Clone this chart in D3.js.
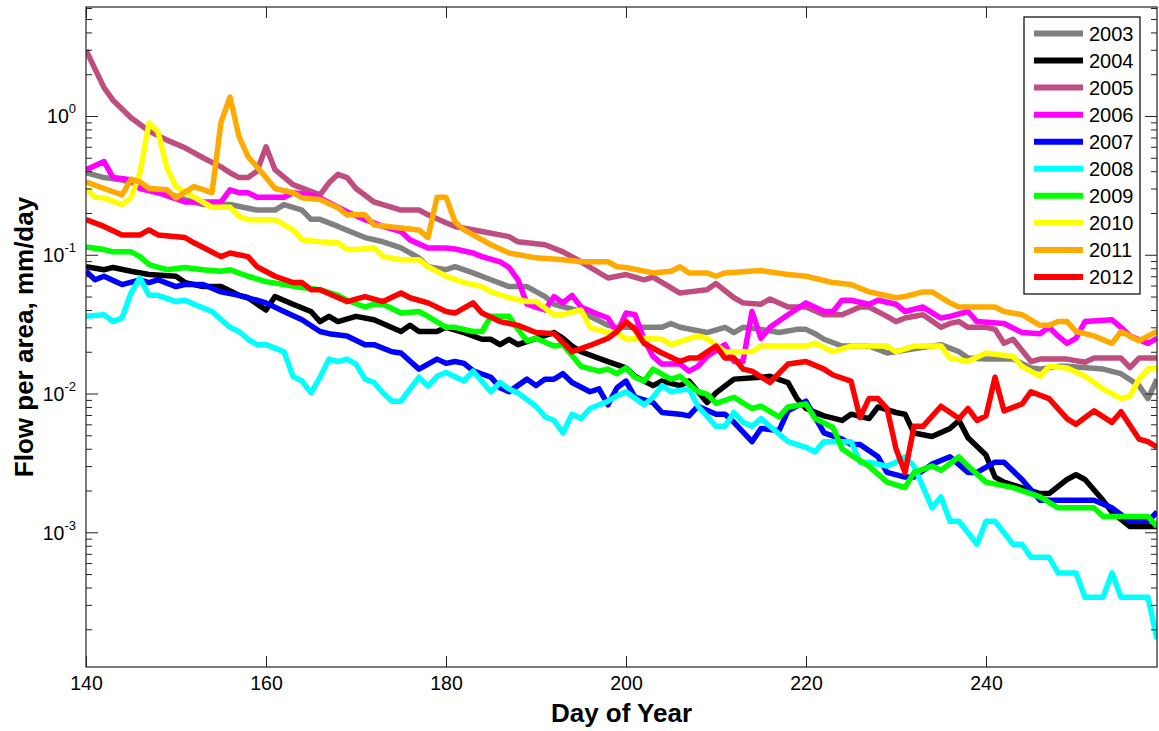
<!DOCTYPE html>
<html>
<head>
<meta charset="utf-8">
<script src="https://cdn.jsdelivr.net/npm/d3@7"></script>
<style>
  body { margin: 0; background: #fff; }
  text { font-family: "Liberation Sans", Arial, sans-serif; fill: #000; }
</style>
</head>
<body>
<div id="chart"></div>
<script>
// day of year, flow per area (mm/day)
var years = ["2003", "2004", "2005", "2006", "2007", "2008", "2009", "2010", "2011", "2012"];
var colors = ["#808080", "#000000", "#bf4d80", "#ff00ff", "#0000ff", "#00ffff", "#00ff00", "#ffff00", "#ffaa00", "#ff0000"];

var xTicks = [140, 160, 180, 200, 220, 240];
var yMajor = [1e-3, 1e-2, 1e-1, 1];
var yExp = ["-3", "-2", "-1", "0"];

var flow2003 = [[140,0.39],[142,0.36],[144,0.345],[146,0.32],[147,0.30],[149,0.28],[151,0.25],[153,0.23],[156,0.23],[159,0.21],[161,0.21],[162,0.23],[164,0.21],[165,0.18],[166,0.18],[168,0.16],[169,0.15],[171,0.133],[173,0.124],[175,0.112],[177,0.095],[178,0.082],[180,0.078],[181,0.082],[183,0.074],[185,0.066],[187,0.059],[189,0.059],[191,0.050],[192,0.044],[195,0.039],[196,0.036],[198,0.031],[199,0.030],[204,0.030],[205,0.032],[206,0.030],[209,0.0275],[211,0.030],[212,0.0275],[213,0.030],[215,0.029],[217,0.0275],[219,0.029],[220,0.029],[221,0.027],[222,0.0246],[224,0.022],[227,0.022],[229,0.0196],[232,0.021],[235,0.0225],[237,0.020],[238,0.018],[240,0.0177],[243,0.0177],[245,0.0153],[246,0.015],[248,0.0157],[249,0.0157],[253,0.015],[255,0.0139],[257,0.0114],[258,0.0092],[259,0.0127]];

var flow2004 = [[140,0.082],[142,0.078],[143,0.081],[145,0.076],[147,0.072],[150,0.070],[151,0.063],[153,0.059],[155,0.059],[157,0.051],[158,0.049],[160,0.040],[161,0.050],[163,0.044],[165,0.039],[166,0.033],[167,0.036],[168,0.033],[170,0.036],[172,0.034],[175,0.028],[176,0.031],[177,0.028],[179,0.028],[180,0.030],[182,0.0275],[184,0.0246],[185,0.0246],[186,0.0225],[187,0.0246],[188,0.0225],[190,0.025],[192,0.0275],[193,0.025],[194,0.022],[195,0.020],[198,0.017],[200,0.0153],[201,0.0133],[203,0.0114],[204,0.0123],[206,0.0114],[207,0.0123],[208,0.0103],[209,0.0086],[210,0.0101],[212,0.0127],[215,0.0131],[216,0.0133],[218,0.012],[219,0.0092],[220,0.0078],[222,0.0069],[224,0.0064],[225,0.0071],[227,0.0066],[228,0.008],[230,0.0073],[231,0.0071],[232,0.0052],[234,0.0049],[236,0.0056],[237,0.0064],[238,0.0048],[240,0.0036],[241,0.0025],[242,0.0023],[246,0.0019],[247,0.0019],[249,0.0024],[250,0.0026],[251,0.0024],[253,0.0017],[254,0.0014],[256,0.0011],[259,0.0011]];

var flow2005 = [[140,2.98],[142,1.6],[143,1.3],[145,0.97],[147,0.78],[149,0.67],[151,0.59],[153,0.50],[155,0.43],[156,0.39],[157,0.36],[158,0.36],[159,0.40],[160,0.60],[161,0.41],[163,0.32],[166,0.27],[167,0.33],[168,0.38],[169,0.36],[170,0.30],[172,0.24],[173,0.23],[175,0.21],[177,0.21],[178,0.194],[180,0.17],[181,0.16],[184,0.147],[187,0.135],[188,0.124],[191,0.118],[193,0.105],[195,0.089],[198,0.068],[200,0.072],[202,0.066],[203,0.069],[206,0.053],[207,0.054],[209,0.056],[210,0.062],[212,0.049],[213,0.045],[215,0.044],[216,0.048],[218,0.042],[220,0.042],[222,0.037],[224,0.037],[226,0.042],[227,0.042],[229,0.036],[230,0.033],[231,0.035],[233,0.037],[235,0.030],[236,0.032],[237,0.033],[238,0.030],[240,0.030],[241,0.029],[242,0.023],[243,0.0246],[245,0.017],[246,0.0177],[249,0.0177],[251,0.0168],[252,0.018],[255,0.018],[256,0.0154],[257,0.018],[259,0.018]];

var flow2006 = [[140,0.41],[142,0.47],[143,0.36],[145,0.347],[146,0.30],[148,0.28],[151,0.24],[155,0.24],[156,0.294],[157,0.28],[158,0.28],[159,0.26],[162,0.26],[163,0.28],[165,0.27],[166,0.257],[168,0.22],[169,0.204],[171,0.179],[173,0.16],[175,0.147],[176,0.128],[178,0.112],[180,0.112],[181,0.110],[183,0.103],[184,0.097],[186,0.089],[187,0.081],[188,0.066],[189,0.044],[190,0.042],[191,0.040],[192,0.050],[193,0.045],[194,0.051],[195,0.042],[197,0.037],[198,0.035],[199,0.0275],[200,0.038],[201,0.037],[202,0.0246],[203,0.0185],[204,0.0163],[206,0.0163],[207,0.0145],[208,0.0157],[209,0.0185],[211,0.0225],[212,0.017],[213,0.017],[214,0.039],[215,0.025],[216,0.030],[218,0.037],[220,0.045],[222,0.039],[223,0.039],[224,0.047],[225,0.047],[227,0.044],[228,0.047],[230,0.044],[231,0.039],[233,0.042],[235,0.035],[236,0.036],[238,0.039],[239,0.033],[242,0.032],[244,0.0275],[246,0.027],[247,0.030],[248,0.026],[249,0.023],[250,0.025],[251,0.033],[254,0.034],[255,0.030],[256,0.026],[258,0.023],[259,0.025]];

var flow2007 = [[140,0.076],[141,0.066],[142,0.070],[144,0.061],[146,0.066],[147,0.063],[148,0.066],[150,0.059],[151,0.061],[153,0.061],[155,0.054],[157,0.051],[159,0.047],[160,0.045],[162,0.039],[164,0.034],[166,0.028],[167,0.027],[169,0.026],[171,0.0225],[172,0.0225],[174,0.020],[175,0.0196],[177,0.015],[179,0.0177],[180,0.0165],[181,0.017],[182,0.0165],[183,0.0146],[185,0.0131],[186,0.011],[187,0.0103],[189,0.0127],[190,0.0114],[191,0.0127],[192,0.0127],[193,0.0139],[194,0.012],[196,0.0103],[197,0.0108],[198,0.0083],[199,0.011],[200,0.0123],[201,0.0094],[203,0.0086],[204,0.0073],[206,0.0071],[207,0.0069],[208,0.0081],[210,0.0071],[211,0.0071],[212,0.0062],[214,0.0045],[215,0.0056],[217,0.0054],[218,0.0075],[220,0.0088],[222,0.0052],[224,0.0047],[225,0.0043],[226,0.0043],[228,0.0035],[229,0.0027],[231,0.0025],[232,0.0025],[234,0.0031],[236,0.0035],[238,0.0027],[239,0.0027],[241,0.0032],[242,0.0032],[244,0.0024],[246,0.0017],[248,0.0017],[252,0.0017],[254,0.0015],[256,0.0012],[258,0.0012],[259,0.0014]];

var flow2008 = [[140,0.036],[142,0.037],[143,0.033],[144,0.035],[145,0.053],[146,0.068],[147,0.051],[148,0.051],[150,0.046],[151,0.047],[152,0.044],[154,0.039],[156,0.030],[157,0.028],[158,0.0246],[159,0.0225],[160,0.0225],[162,0.020],[163,0.0133],[164,0.0123],[165,0.0101],[166,0.0131],[167,0.0177],[168,0.017],[169,0.0177],[170,0.0163],[171,0.0127],[172,0.012],[173,0.0101],[174,0.0088],[175,0.0088],[176,0.0108],[177,0.0131],[178,0.0113],[179,0.0133],[180,0.0142],[182,0.0123],[183,0.0145],[185,0.0103],[186,0.012],[187,0.0108],[188,0.0101],[190,0.0081],[191,0.0068],[192,0.0064],[193,0.0052],[194,0.0071],[195,0.0066],[196,0.0078],[198,0.0088],[199,0.0096],[200,0.0103],[202,0.0083],[203,0.0094],[204,0.0114],[205,0.0103],[207,0.0108],[208,0.0081],[210,0.0058],[211,0.0058],[212,0.0073],[213,0.0062],[214,0.0058],[215,0.0066],[218,0.0045],[220,0.0041],[221,0.0038],[222,0.0045],[225,0.0045],[226,0.0032],[227,0.0032],[229,0.003],[230,0.0032],[231,0.0035],[232,0.003],[234,0.0015],[235,0.0018],[236,0.0012],[237,0.0012],[239,0.00082],[240,0.0012],[241,0.0012],[243,0.00082],[244,0.00082],[245,0.00066],[247,0.00066],[248,0.00051],[250,0.00051],[251,0.00034],[253,0.00034],[254,0.00051],[255,0.00034],[258,0.00034],[259,0.00017]];

var flow2009 = [[140,0.114],[142,0.109],[143,0.105],[145,0.105],[146,0.097],[147,0.085],[149,0.078],[151,0.081],[153,0.078],[155,0.076],[156,0.078],[158,0.070],[160,0.064],[162,0.061],[164,0.058],[166,0.056],[168,0.051],[169,0.047],[171,0.042],[172,0.044],[173,0.044],[175,0.038],[177,0.039],[178,0.036],[180,0.030],[181,0.030],[183,0.028],[184,0.028],[185,0.036],[187,0.036],[188,0.029],[189,0.024],[190,0.025],[192,0.022],[193,0.0225],[195,0.0157],[197,0.0145],[198,0.015],[199,0.0139],[200,0.0153],[201,0.0131],[202,0.0123],[203,0.015],[205,0.0127],[206,0.0133],[208,0.0103],[209,0.0099],[210,0.0085],[212,0.0094],[214,0.0078],[215,0.0081],[217,0.0068],[218,0.008],[220,0.0084],[221,0.0066],[223,0.0057],[224,0.004],[225,0.0036],[227,0.003],[229,0.0023],[231,0.0021],[232,0.0027],[234,0.003],[235,0.0028],[237,0.0035],[238,0.003],[240,0.0023],[243,0.0021],[246,0.0018],[248,0.0015],[252,0.0015],[253,0.0013],[258,0.0013],[259,0.0011]];

var flow2010 = [[140,0.30],[141,0.26],[142,0.257],[144,0.23],[145,0.257],[146,0.39],[147,0.89],[148,0.77],[149,0.42],[150,0.31],[152,0.26],[154,0.22],[156,0.22],[157,0.188],[158,0.179],[161,0.179],[163,0.151],[164,0.128],[166,0.124],[168,0.122],[169,0.109],[170,0.109],[172,0.112],[173,0.097],[175,0.092],[177,0.092],[178,0.082],[180,0.070],[182,0.063],[184,0.059],[185,0.054],[187,0.049],[189,0.046],[190,0.046],[192,0.037],[193,0.037],[195,0.040],[196,0.030],[198,0.0275],[199,0.0275],[200,0.0246],[202,0.025],[204,0.0246],[205,0.0225],[208,0.026],[209,0.025],[211,0.020],[214,0.020],[215,0.022],[220,0.022],[221,0.023],[223,0.020],[225,0.022],[229,0.022],[230,0.020],[232,0.022],[235,0.022],[236,0.018],[238,0.017],[240,0.0196],[243,0.0185],[244,0.0157],[246,0.0133],[247,0.0157],[249,0.0153],[251,0.0133],[253,0.0108],[255,0.0092],[256,0.0096],[257,0.0127],[258,0.015],[259,0.0153]];

var flow2011 = [[140,0.335],[142,0.30],[144,0.27],[145,0.35],[146,0.335],[147,0.30],[149,0.294],[150,0.257],[152,0.31],[154,0.28],[155,0.9],[156,1.37],[157,0.71],[158,0.51],[160,0.36],[161,0.30],[163,0.28],[164,0.257],[166,0.25],[168,0.218],[169,0.194],[171,0.194],[172,0.164],[175,0.156],[177,0.151],[178,0.133],[179,0.26],[180,0.26],[181,0.173],[182,0.151],[185,0.118],[187,0.103],[190,0.095],[193,0.092],[195,0.089],[198,0.089],[199,0.082],[200,0.081],[203,0.074],[205,0.076],[206,0.082],[207,0.074],[209,0.074],[210,0.070],[211,0.074],[215,0.077],[218,0.072],[220,0.070],[223,0.063],[225,0.061],[227,0.054],[230,0.049],[231,0.050],[233,0.054],[234,0.054],[236,0.045],[237,0.042],[241,0.042],[242,0.039],[244,0.037],[246,0.031],[247,0.031],[248,0.033],[249,0.033],[250,0.028],[252,0.026],[254,0.023],[255,0.028],[257,0.024],[259,0.028]];

var flow2012 = [[140,0.179],[142,0.16],[144,0.139],[146,0.139],[147,0.151],[148,0.139],[151,0.133],[152,0.122],[155,0.097],[156,0.103],[158,0.097],[159,0.082],[161,0.070],[163,0.063],[164,0.063],[165,0.056],[166,0.056],[169,0.046],[171,0.050],[173,0.046],[175,0.053],[176,0.049],[178,0.045],[180,0.039],[181,0.038],[183,0.045],[184,0.038],[186,0.033],[188,0.031],[190,0.0275],[192,0.027],[194,0.020],[196,0.0222],[198,0.025],[199,0.028],[200,0.033],[201,0.029],[202,0.023],[204,0.0196],[206,0.017],[207,0.018],[208,0.018],[210,0.022],[211,0.018],[212,0.018],[213,0.015],[214,0.0145],[216,0.012],[218,0.0163],[220,0.017],[222,0.015],[223,0.0136],[225,0.0123],[226,0.0067],[227,0.0092],[228,0.0092],[229,0.0078],[230,0.004],[231,0.0027],[232,0.0058],[233,0.0058],[235,0.0081],[237,0.0066],[238,0.0078],[239,0.0064],[240,0.0069],[241,0.0131],[242,0.0075],[244,0.0084],[245,0.0103],[247,0.0092],[249,0.0066],[250,0.006],[252,0.0075],[254,0.0062],[255,0.0074],[257,0.0047],[258,0.0045],[259,0.0041]];

var allSeries = [flow2003, flow2004, flow2005, flow2006, flow2007, flow2008, flow2009, flow2010, flow2011, flow2012];

var svgWidth = 1159;
var svgHeight = 731;

var margin = {
    top: 7,
    right: 2,
    bottom: 64,
    left: 86
};

var width = svgWidth - margin.left - margin.right;
var height = svgHeight - margin.top - margin.bottom;

var svg = d3.select("#chart")
    .append("svg")
    .attr("width", svgWidth)
    .attr("height", svgHeight);

svg.append("rect")
    .attr("width", svgWidth)
    .attr("height", svgHeight)
    .attr("fill", "#fff");

var chartGroup = svg.append("g")
    .attr("transform", `translate(${margin.left}, ${margin.top})`);

//scales
var xScale = d3.scaleLinear()
    .domain([140, 259])
    .range([0, width]);

var yScale = d3.scaleLog()
    .domain([1.07e-4, 6.1])
    .range([height, 0]);

//minor ticks 2..9 per decade
var yMinor = [];
[1e-4, 1e-3, 1e-2, 1e-1, 1].forEach(function(dec) {
    for (var k = 2; k <= 9; k++) {
        var v = dec * k;
        if (v > yScale.domain()[0] && v < yScale.domain()[1]) yMinor.push(v);
    }
});

//clip lines to the plot box
chartGroup.append("clipPath")
    .attr("id", "plotClip")
    .append("rect")
    .attr("width", width)
    .attr("height", height);

var line = d3.line()
    .x(d => xScale(d[0]))
    .y(d => yScale(d[1]));

chartGroup.append("g")
    .attr("clip-path", "url(#plotClip)")
    .selectAll("path")
    .data(allSeries)
    .enter()
    .append("path")
    .attr("d", line)
    .attr("fill", "none")
    .attr("stroke", (d, i) => colors[i])
    .attr("stroke-width", 5.5)
    .attr("stroke-linejoin", "round");

//axes, ticks pointing inward
var axisColor = "#222";

function styleAxis(g) {
    g.select(".domain").remove();
    g.selectAll("line").attr("stroke", axisColor).attr("stroke-width", 1);
}

chartGroup.append("g")
    .attr("transform", `translate(0, ${height})`)
    .call(d3.axisBottom(xScale).tickValues(xTicks).tickSize(-11).tickPadding(9).tickFormat(d3.format("d")))
    .call(styleAxis)
    .selectAll("text")
    .style("font-size", "19.5px")
    .style("font-family", "'Liberation Sans', Arial, sans-serif")
    .attr("fill", "#000");

chartGroup.append("g")
    .call(d3.axisTop(xScale).tickValues(xTicks).tickSize(-11).tickFormat(""))
    .call(styleAxis);

chartGroup.append("g")
    .call(d3.axisLeft(yScale).tickValues(yMajor).tickSize(-12).tickFormat(""))
    .call(styleAxis);

chartGroup.append("g")
    .call(d3.axisLeft(yScale).tickValues(yMinor).tickSize(-6).tickFormat(""))
    .call(styleAxis);

chartGroup.append("g")
    .attr("transform", `translate(${width}, 0)`)
    .call(d3.axisRight(yScale).tickValues(yMajor).tickSize(-12).tickFormat(""))
    .call(styleAxis);

chartGroup.append("g")
    .attr("transform", `translate(${width}, 0)`)
    .call(d3.axisRight(yScale).tickValues(yMinor).tickSize(-6).tickFormat(""))
    .call(styleAxis);

//y tick labels 10^n
var yLabels = chartGroup.selectAll(".ylab")
    .data(yMajor)
    .enter()
    .append("text")
    .attr("class", "ylab")
    .attr("x", -10)
    .attr("y", d => yScale(d) + 7.5)
    .attr("text-anchor", "end")
    .style("font-size", "19.5px");

yLabels.append("tspan").text("10");
yLabels.append("tspan")
    .attr("dy", -10)
    .style("font-size", "13px")
    .text((d, i) => yExp[i]);

//plot frame
chartGroup.append("rect")
    .attr("width", width)
    .attr("height", height)
    .attr("fill", "none")
    .attr("stroke", axisColor)
    .attr("stroke-width", 1.2);

//axis titles
chartGroup.append("text")
    .attr("x", width / 2)
    .attr("y", height + 55)
    .attr("text-anchor", "middle")
    .style("font-size", "26px")
    .style("font-weight", "bold")
    .text("Day of Year");

svg.append("text")
    .attr("transform", `translate(33, ${margin.top + height / 2}) rotate(-90)`)
    .attr("text-anchor", "middle")
    .style("font-size", "26px")
    .style("font-weight", "bold")
    .text("Flow per area, mm/day");

//legend
var legend = svg.append("g")
    .attr("transform", "translate(1024, 17)");

legend.append("rect")
    .attr("width", 116)
    .attr("height", 277)
    .attr("fill", "#fff")
    .attr("stroke", "#000")
    .attr("stroke-width", 1.2);

var legendItems = legend.selectAll(".item")
    .data(years)
    .enter()
    .append("g")
    .attr("class", "item")
    .attr("transform", (d, i) => `translate(0, ${16.5 + i * 27.05})`);

legendItems.append("line")
    .attr("x1", 10)
    .attr("x2", 59)
    .attr("stroke", (d, i) => colors[i])
    .attr("stroke-width", 6);

legendItems.append("text")
    .attr("x", 65)
    .attr("y", 7.5)
    .style("font-size", "20px")
    .text(d => d);
</script>
</body>
</html>
